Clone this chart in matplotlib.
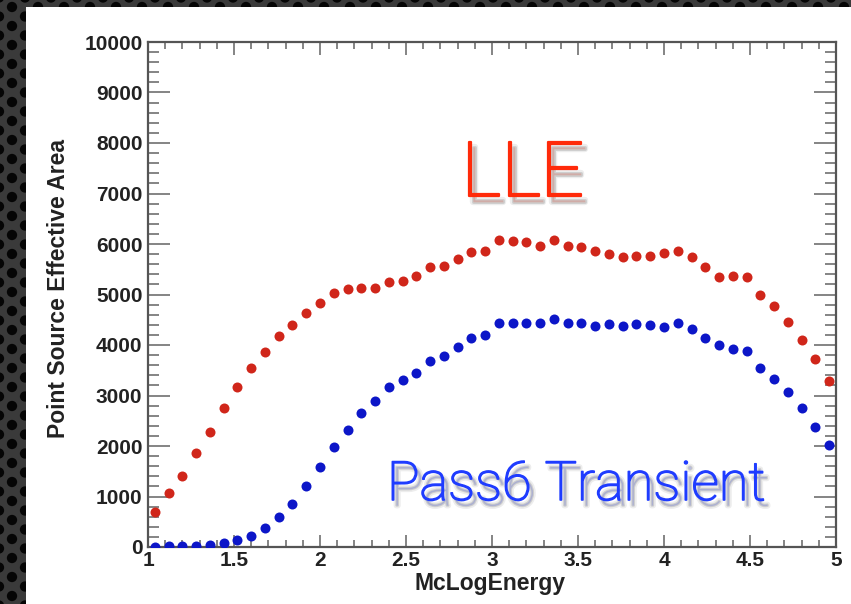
import matplotlib
matplotlib.use('Agg')
import matplotlib.pyplot as plt
from matplotlib.ticker import MultipleLocator
from matplotlib.patches import Rectangle
import matplotlib.patheffects as pe

# ---------------- data ----------------
mc_log_energy = [1.04, 1.12, 1.20, 1.28, 1.36, 1.44, 1.52, 1.60, 1.68, 1.76,
                 1.84, 1.92, 2.00, 2.08, 2.16, 2.24, 2.32, 2.40, 2.48, 2.56,
                 2.64, 2.72, 2.80, 2.88, 2.96, 3.04, 3.12, 3.20, 3.28, 3.36,
                 3.44, 3.52, 3.60, 3.68, 3.76, 3.84, 3.92, 4.00, 4.08, 4.16,
                 4.24, 4.32, 4.40, 4.48, 4.56, 4.64, 4.72, 4.80, 4.88, 4.96]

lle_area = [700, 1065, 1410, 1860, 2285, 2750, 3160, 3540, 3870, 4180,
            4400, 4630, 4825, 5035, 5100, 5120, 5120, 5240, 5275, 5365,
            5550, 5565, 5696, 5845, 5870, 6080, 6060, 6045, 5960, 6080,
            5960, 5935, 5870, 5800, 5750, 5760, 5760, 5815, 5870, 5750,
            5540, 5340, 5370, 5340, 5000, 4770, 4460, 4100, 3715, 3290]

transient_area = [8, 10, 14, 25, 42, 78, 145, 220, 370, 595,
                  850, 1208, 1578, 1987, 2317, 2647, 2890, 3175, 3307, 3452,
                  3690, 3782, 3967, 4132, 4205, 4429, 4442, 4442, 4442, 4515,
                  4429, 4429, 4376, 4409, 4376, 4409, 4396, 4363, 4429, 4310,
                  4132, 4000, 3921, 3881, 3551, 3320, 3076, 2759, 2370, 2015]

x_ticks = [1, 1.5, 2, 2.5, 3, 3.5, 4, 4.5, 5]
x_tick_labels = ['1', '1.5', '2', '2.5', '3', '3.5', '4', '4.5', '5']
y_ticks = [0, 1000, 2000, 3000, 4000, 5000, 6000, 7000, 8000, 9000, 10000]
y_tick_labels = ['0', '1000', '2000', '3000', '4000', '5000', '6000', '7000',
                 '8000', '9000', '10000']

W, H = 851, 604
fig = plt.figure(figsize=(W / 100, H / 100), dpi=100)
fig.patch.set_facecolor('#3a3a3a')

# ---------------- slide background (perforated pattern) ----------------
bg = fig.add_axes([0, 0, 1, 1])
bg.set_xlim(0, W)
bg.set_ylim(H, 0)
bg.axis('off')
px, py = [], []
for i in range(-1, 70):
    for j in range(-1, 34):
        px.append(i * 13 + 12)
        py.append(j * 19 + 7 + (9.5 if i % 2 else 0))
bg.scatter(px, py, s=55, color='#050505', edgecolors='none', zorder=1)
bg.add_patch(Rectangle((26, 7), W - 26, H - 7, facecolor='white',
                       edgecolor='none', zorder=2))

# ---------------- main plot ----------------
font = {'family': 'Liberation Sans', 'weight': 'bold'}
ax = fig.add_axes([148 / W, 1 - 547 / H, (836 - 148) / W, (547 - 42) / H])
ax.plot(mc_log_energy, lle_area, 'o', color='#d0261a', ms=7.2, mec='none',
        zorder=3)
ax.plot(mc_log_energy, transient_area, 'o', color='#0c16c8', ms=7.2,
        mec='none', zorder=3)
ax.set_xlim(1, 5)
ax.set_ylim(0, 10000)

ax.set_xticks(x_ticks)
ax.set_xticklabels(x_tick_labels, fontdict=font, fontsize=15)
ax.set_yticks(y_ticks)
ax.set_yticklabels(y_tick_labels, fontdict=font, fontsize=15)
ax.xaxis.set_minor_locator(MultipleLocator(0.1))
ax.yaxis.set_minor_locator(MultipleLocator(200))
ax.tick_params(which='both', direction='in', top=True, right=True,
               color='#707070', width=1.2, labelcolor='#222222')
ax.tick_params(axis='x', which='major', length=9, pad=3)
ax.tick_params(axis='x', which='minor', length=5)
ax.tick_params(axis='y', which='major', length=16, pad=4)
ax.tick_params(axis='y', which='minor', length=8)
for sp in ax.spines.values():
    sp.set_color('#555555')
    sp.set_linewidth(1.6)

ax.set_xlabel('McLogEnergy', fontdict=font, fontsize=16.5, color='#222222')
ax.xaxis.set_label_coords(0.497, -0.05)
ax.set_ylabel('Point Source Effective Area', fontdict=font, fontsize=16.5,
              color='#222222')
ax.yaxis.set_label_coords(-0.113, 0.511)


def light_text(lw, color):
    return [pe.Stroke(offset=(3, -4), linewidth=lw + 3, foreground='#000000',
                      alpha=0.07),
            pe.Stroke(offset=(3, -4), linewidth=lw + 0.5, foreground='#000000',
                      alpha=0.13),
            pe.Stroke(linewidth=lw, foreground=color),
            pe.Normal()]


red_txt = '#ff2a0a'
blue_txt = '#1f3cff'
ax.text(0.545, 0.695, 'LLE', transform=ax.transAxes, ha='center',
        va='baseline', fontsize=55, color=red_txt, family='Roboto',
        fontweight='light', path_effects=light_text(1.6, red_txt))
ax.text(0.622, 0.093, 'Pass6 Transient', transform=ax.transAxes, ha='center',
        va='baseline', fontsize=39, color=blue_txt, family='Roboto',
        fontweight='light', path_effects=light_text(1.1, blue_txt))

fig.savefig('out.png', dpi=100, facecolor=fig.get_facecolor())
